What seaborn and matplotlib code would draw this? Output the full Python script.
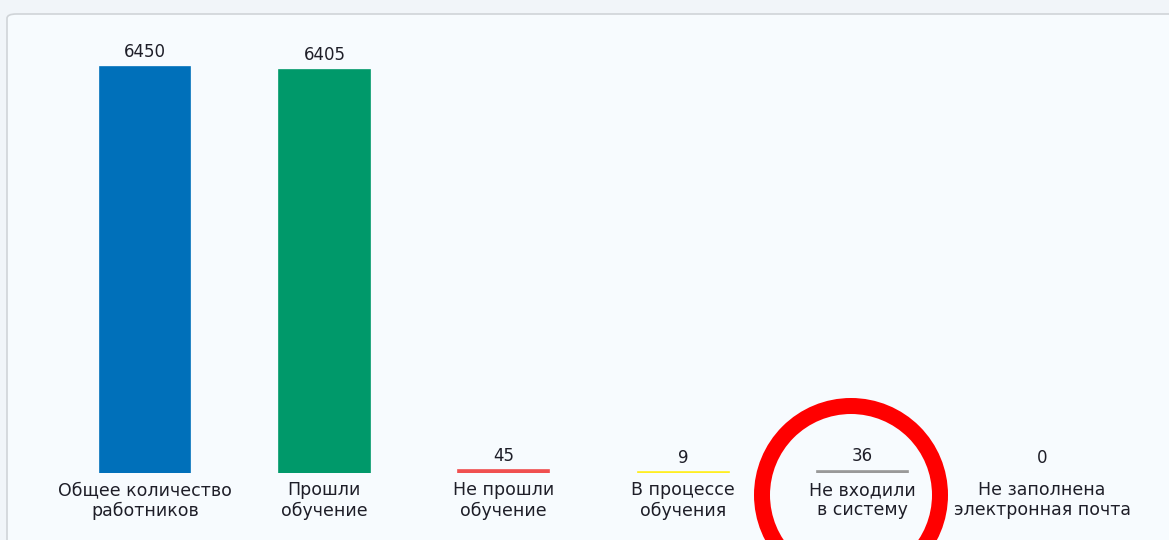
import matplotlib
matplotlib.use("Agg")
import matplotlib.pyplot as plt
from matplotlib.patches import FancyBboxPatch, Ellipse
import pandas as pd
import seaborn as sns

# chart data
categories = ["Общее количество\nработников", "Прошли\nобучение", "Не прошли\nобучение",
              "В процессе\nобучения", "Не входили\nв систему", "Не заполнена\nэлектронная почта"]
values = [6450, 6405, 45, 9, 36, 0]
colors = ["#0070BA", "#00996A", "#F05050", "#FFEE22", "#999999", "#CCCCCC"]

W, H = 1169, 540
sns.set_theme(style="white")
plt.rcParams['font.family'] = ['DejaVu Sans']

fig = plt.figure(figsize=(W / 100, H / 100), dpi=100)
fig.patch.set_facecolor('#f1f5f9')

# panel behind the chart
panel = FancyBboxPatch((7 / W, -0.1), 1200 / W, 1.1 - 14 / H,
                       boxstyle="round,pad=0,rounding_size=0.008",
                       transform=fig.transFigure, facecolor='#f7fbfe',
                       edgecolor='#d0d4d8', linewidth=1.2, zorder=-5)
fig.patches.append(panel)

# axes placed so bars line up with the reference
x0_px, step_px = 145, 179.4
bottom_px, top_px = 473, 14
ax = fig.add_axes([0, (H - bottom_px) / H, 1, (bottom_px - top_px) / H])
ax.set_facecolor('none')

df = pd.DataFrame({'cat': categories, 'val': values})
sns.barplot(data=df, x='cat', y='val', hue='cat', palette=colors, legend=False,
            width=0.507, saturation=1, ax=ax)

# give tiny bars a visible line like the original
for p, v, c in zip(ax.patches, values, colors):
    if v > 0:
        p.set_edgecolor(c)
        p.set_linewidth(1.2)

ax.set_xlim(-x0_px / step_px, (W - x0_px) / step_px)
ax.set_ylim(0, (bottom_px - top_px) * values[0] / 406)

for i, v in enumerate(values):
    ax.annotate(str(v), (i, v), xytext=(0, 4), textcoords='offset points',
                ha='center', va='bottom', fontsize=12, color='#1e1e28')

ax.set_xlabel('')
ax.set_ylabel('')
ax.set_yticks([])
ax.tick_params(axis='x', length=0, pad=6, labelsize=12.5, colors='#1e1e28')
for t in ax.get_xticklabels():
    t.set_linespacing(1.15)
for s in ax.spines.values():
    s.set_visible(False)

# red hand-drawn style circle
ring = Ellipse((851 / W, 1 - 495 / H), 2 * 89 / W, 2 * 89 / H,
               transform=fig.transFigure, fill=False, edgecolor='#FF0000',
               linewidth=16 * 72 / 100, zorder=10)
fig.patches.append(ring)

fig.savefig('out.png', dpi=100, facecolor=fig.get_facecolor())
